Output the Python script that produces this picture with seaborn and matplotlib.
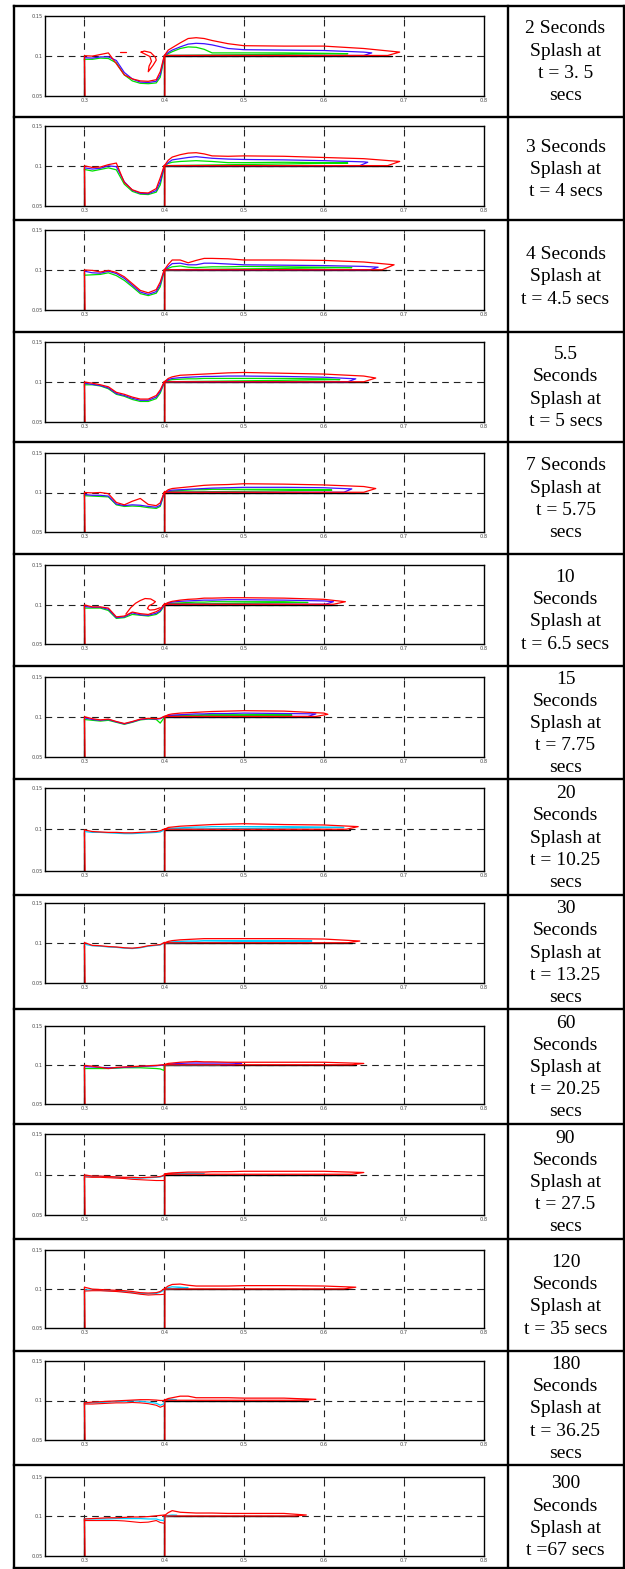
import numpy as np
import matplotlib
matplotlib.use("Agg")
import matplotlib.pyplot as plt
import seaborn as sns

W, H = 625, 1569

# ============================
# DATA
# ============================
captions = [
    "2 Seconds\nSplash at\nt = 3. 5\nsecs",
    "3 Seconds\nSplash at\nt = 4 secs",
    "4 Seconds\nSplash at\nt = 4.5 secs",
    "5.5\nSeconds\nSplash at\nt = 5 secs",
    "7 Seconds\nSplash at\nt = 5.75\nsecs",
    "10\nSeconds\nSplash at\nt = 6.5 secs",
    "15\nSeconds\nSplash at\nt = 7.75\nsecs",
    "20\nSeconds\nSplash at\nt = 10.25\nsecs",
    "30\nSeconds\nSplash at\nt = 13.25\nsecs",
    "60\nSeconds\nSplash at\nt = 20.25\nsecs",
    "90\nSeconds\nSplash at\nt = 27.5\nsecs",
    "120\nSeconds\nSplash at\nt = 35 secs",
    "180\nSeconds\nSplash at\nt = 36.25\nsecs",
    "300\nSeconds\nSplash at\nt =67 secs",
]

x_ticks = [0.3, 0.4, 0.5, 0.6, 0.7, 0.8]
x_labels = ["0.3", "0.4", "0.5", "0.6", "0.7", "0.8"]
y_ticks = [0.05, 0.1, 0.15]
y_labels = ["0.05", "0.1", "0.15"]

# free surface inside the pool (0.3 .. 0.4)
pool_x = [0.300, 0.310, 0.320, 0.330, 0.340, 0.350, 0.360, 0.370, 0.380, 0.390, 0.395, 0.400]

red_pool = [
    [0.100, 0.0995, 0.1015, 0.1035, 0.090, 0.076, 0.071, 0.0685, 0.068, 0.070, 0.080, 0.100],
    [0.100, 0.098, 0.0985, 0.1015, 0.1035, 0.079, 0.070, 0.0665, 0.066, 0.0715, 0.085, 0.1005],
    [0.100, 0.0995, 0.0975, 0.0995, 0.097, 0.0915, 0.083, 0.0745, 0.0715, 0.0755, 0.085, 0.1005],
    [0.100, 0.0985, 0.0965, 0.094, 0.087, 0.0845, 0.081, 0.0785, 0.0785, 0.083, 0.090, 0.1005],
    [0.100, 0.0995, 0.100, 0.0985, 0.0875, 0.0845, 0.089, 0.0925, 0.085, 0.0835, 0.087, 0.1005],
    [0.0995, 0.097, 0.097, 0.0955, 0.0845, 0.0855, 0.0905, 0.0885, 0.0875, 0.091, 0.094, 0.1005],
    [0.100, 0.0975, 0.096, 0.097, 0.094, 0.0915, 0.094, 0.097, 0.098, 0.0975, 0.098, 0.1005],
    [0.0995, 0.0975, 0.097, 0.0965, 0.0965, 0.096, 0.096, 0.0965, 0.097, 0.0975, 0.0985, 0.1005],
    [0.1005, 0.097, 0.0965, 0.0955, 0.095, 0.094, 0.0935, 0.0945, 0.0965, 0.0975, 0.098, 0.1005],
    [0.0995, 0.0985, 0.097, 0.0955, 0.097, 0.0975, 0.098, 0.0985, 0.099, 0.0995, 0.100, 0.1005],
    [0.0995, 0.098, 0.098, 0.0975, 0.097, 0.0965, 0.0965, 0.096, 0.0965, 0.097, 0.0975, 0.099],
    [0.1025, 0.100, 0.0995, 0.099, 0.0985, 0.098, 0.097, 0.0955, 0.095, 0.0955, 0.097, 0.1005],
    [0.097, 0.098, 0.0985, 0.099, 0.0995, 0.100, 0.1005, 0.101, 0.101, 0.1005, 0.100, 0.100],
    [0.0965, 0.097, 0.0975, 0.098, 0.098, 0.0985, 0.099, 0.099, 0.0995, 0.1005, 0.101, 0.1015],
]

blue_pool = [
    [0.0975, 0.097, 0.0985, 0.0985, 0.094, 0.079, 0.071, 0.067, 0.0665, 0.068, 0.076, 0.099],
    [0.0975, 0.096, 0.097, 0.100, 0.099, 0.080, 0.0695, 0.0655, 0.065, 0.069, 0.080, 0.099],
    [0.0985, 0.0965, 0.096, 0.0985, 0.0955, 0.0895, 0.081, 0.0725, 0.0695, 0.073, 0.082, 0.0995],
    [0.0985, 0.097, 0.0955, 0.0925, 0.0855, 0.083, 0.0795, 0.077, 0.077, 0.081, 0.088, 0.0995],
    [0.0975, 0.0965, 0.0965, 0.0955, 0.0855, 0.0835, 0.0845, 0.084, 0.0825, 0.0815, 0.084, 0.0995],
    [0.0975, 0.0965, 0.0965, 0.094, 0.0835, 0.0845, 0.0895, 0.087, 0.0865, 0.089, 0.092, 0.0995],
    [0.0985, 0.0965, 0.0955, 0.0965, 0.0935, 0.091, 0.0935, 0.0965, 0.0975, 0.097, 0.0975, 0.100],
    None,
    None,
    [0.098, 0.0975, 0.097, 0.0965, 0.0965, 0.097, 0.0975, 0.098, 0.0985, 0.099, 0.0995, 0.100],
    None,
    None,
    None,
    None,
]

third_color = ["#00e000", "#00e000", "#00e000", "#00e000", "#00e000", "#00e000", "#00e000",
               "#00ccff", "#00ccff", "#00e000", "#00ccff", "#00ccff", "#00ccff", "#00ccff"]

third_pool = [
    [0.0955, 0.0955, 0.097, 0.0965, 0.091, 0.076, 0.0685, 0.0655, 0.065, 0.066, 0.073, 0.097],
    [0.0955, 0.0935, 0.0955, 0.0975, 0.095, 0.077, 0.068, 0.0645, 0.064, 0.067, 0.076, 0.098],
    [0.0935, 0.094, 0.0945, 0.0965, 0.093, 0.087, 0.079, 0.0705, 0.068, 0.071, 0.079, 0.0985],
    [0.0965, 0.0965, 0.095, 0.0915, 0.0845, 0.082, 0.078, 0.0755, 0.0755, 0.079, 0.086, 0.099],
    [0.096, 0.0955, 0.095, 0.0945, 0.0845, 0.0825, 0.083, 0.0825, 0.081, 0.080, 0.0825, 0.099],
    [0.0955, 0.0955, 0.0955, 0.0925, 0.0825, 0.0835, 0.0875, 0.0865, 0.0855, 0.0875, 0.091, 0.0985],
    [0.0965, 0.0955, 0.0945, 0.0955, 0.093, 0.0905, 0.093, 0.096, 0.097, 0.0965, 0.092, 0.099],
    [0.0975, 0.0965, 0.0965, 0.096, 0.0955, 0.095, 0.095, 0.0955, 0.096, 0.0965, 0.097, 0.0995],
    [0.0985, 0.0965, 0.096, 0.095, 0.0945, 0.0935, 0.093, 0.094, 0.096, 0.097, 0.0975, 0.100],
    [0.0955, 0.0955, 0.0955, 0.0955, 0.096, 0.0965, 0.0965, 0.0965, 0.096, 0.0955, 0.095, 0.093],
    [0.098, 0.0975, 0.0975, 0.097, 0.0965, 0.096, 0.0955, 0.0955, 0.096, 0.0965, 0.097, 0.0985],
    [0.099, 0.099, 0.0985, 0.098, 0.0975, 0.097, 0.0955, 0.0945, 0.094, 0.0945, 0.096, 0.099],
    [0.0965, 0.097, 0.0975, 0.098, 0.0985, 0.099, 0.0995, 0.099, 0.098, 0.0965, 0.094, 0.096],
    [0.0965, 0.0965, 0.0965, 0.0965, 0.097, 0.097, 0.097, 0.097, 0.0965, 0.0965, 0.095, 0.0945],
]

# lower red contour seen in the late frames
red_inner = [
    None, None, None, None, None, None, None, None, None, None,
    [0.097, 0.0965, 0.0965, 0.096, 0.0955, 0.095, 0.094, 0.0935, 0.093, 0.0925, 0.0925, 0.0925],
    [0.0975, 0.098, 0.098, 0.0975, 0.097, 0.096, 0.095, 0.0935, 0.0925, 0.093, 0.093, 0.0935],
    [0.0955, 0.0955, 0.096, 0.0965, 0.097, 0.097, 0.0975, 0.097, 0.096, 0.094, 0.0915, 0.0935],
    [0.0945, 0.0945, 0.0945, 0.0945, 0.0945, 0.094, 0.093, 0.092, 0.0925, 0.0945, 0.092, 0.091],
]

# thin layer running over the step (x > 0.4), top edge, None past the tip
tongue_x = [0.400, 0.405, 0.410, 0.420, 0.430, 0.440, 0.450, 0.460, 0.480, 0.500, 0.550, 0.600, 0.650]

red_tongue = [
    [0.100, 0.107, 0.110, 0.116, 0.1215, 0.1225, 0.1215, 0.119, 0.115, 0.1125, 0.112, 0.112, 0.109],
    [0.100, 0.107, 0.111, 0.114, 0.116, 0.1165, 0.115, 0.1125, 0.112, 0.1125, 0.112, 0.1105, 0.109],
    [0.100, 0.107, 0.1125, 0.1125, 0.109, 0.112, 0.1145, 0.1145, 0.114, 0.1125, 0.1125, 0.112, 0.110],
    [0.100, 0.1045, 0.1065, 0.1085, 0.109, 0.1095, 0.110, 0.1105, 0.1115, 0.112, 0.111, 0.110, 0.1075],
    [0.100, 0.1035, 0.105, 0.106, 0.107, 0.108, 0.109, 0.1095, 0.110, 0.111, 0.1105, 0.1095, 0.1075],
    [0.100, 0.1025, 0.104, 0.1055, 0.1065, 0.107, 0.108, 0.108, 0.1085, 0.1085, 0.108, 0.1065, None],
    [0.100, 0.1025, 0.1035, 0.1045, 0.105, 0.1055, 0.106, 0.1065, 0.107, 0.1075, 0.107, 0.1045, None],
    [0.100, 0.1025, 0.103, 0.104, 0.1045, 0.105, 0.1055, 0.106, 0.1065, 0.107, 0.106, 0.1055, None],
    [0.100, 0.102, 0.103, 0.104, 0.1045, 0.105, 0.1055, 0.1055, 0.1055, 0.1055, 0.1055, 0.105, None],
    [0.1005, 0.102, 0.1025, 0.1035, 0.104, 0.1045, 0.104, 0.104, 0.1035, 0.1035, 0.1035, 0.1035, None],
    [0.1005, 0.1015, 0.102, 0.1025, 0.103, 0.103, 0.103, 0.1035, 0.1035, 0.104, 0.104, 0.104, None],
    [0.1005, 0.104, 0.106, 0.1065, 0.105, 0.104, 0.104, 0.104, 0.104, 0.1045, 0.1045, 0.104, None],
    [0.1005, 0.1025, 0.1035, 0.1055, 0.1055, 0.1035, 0.1035, 0.1035, 0.1035, 0.103, 0.103, None, None],
    [0.1005, 0.1045, 0.107, 0.105, 0.1045, 0.104, 0.104, 0.104, 0.1035, 0.1035, 0.1035, None, None],
]
red_tip_x = [0.695, 0.695, 0.688, 0.665, 0.665, 0.627, 0.605, 0.643, 0.645, 0.650, 0.650, 0.640, 0.590, 0.578]
red_tip_y = [0.1045, 0.1055, 0.1065, 0.105, 0.105, 0.1035, 0.103, 0.1035, 0.1025, 0.102, 0.1025, 0.1025, 0.1015, 0.1015]

blue_tongue = [
    [0.100, 0.104, 0.107, 0.111, 0.1145, 0.1155, 0.115, 0.1135, 0.109, 0.1075, 0.107, 0.1065, 0.1045],
    [0.100, 0.104, 0.1075, 0.109, 0.1105, 0.1115, 0.1105, 0.1095, 0.1085, 0.108, 0.1075, 0.1065, 0.105],
    [0.100, 0.104, 0.108, 0.1085, 0.1065, 0.1065, 0.1085, 0.1085, 0.1075, 0.1065, 0.106, 0.1055, 0.1045],
    [0.100, 0.103, 0.1045, 0.1055, 0.106, 0.1065, 0.107, 0.107, 0.1075, 0.1075, 0.107, 0.106, None],
    [0.100, 0.102, 0.103, 0.1035, 0.104, 0.1045, 0.105, 0.1055, 0.106, 0.1065, 0.1065, 0.106, None],
    [0.100, 0.102, 0.103, 0.104, 0.1045, 0.105, 0.1055, 0.1055, 0.106, 0.106, 0.1055, 0.1045, None],
    [0.100, 0.101, 0.102, 0.1025, 0.103, 0.1035, 0.1035, 0.104, 0.104, 0.1045, 0.104, None, None],
    None,
    None,
    [0.100, 0.101, 0.1015, 0.102, 0.1025, 0.1025, 0.1025, 0.1025, 0.1025, None, None, None, None],
    None,
    None,
    None,
    None,
]
blue_tip_x = [0.660, 0.655, 0.668, 0.640, 0.635, 0.612, 0.590, None, None, 0.497, None, None, None, None]
blue_tip_y = [0.1035, 0.1045, 0.1035, 0.104, 0.1045, 0.1035, 0.1035, None, None, 0.102, None, None, None, None]

third_tongue = [
    [0.100, 0.1025, 0.105, 0.109, 0.111, 0.1105, 0.108, 0.1035, 0.1035, 0.1035, 0.1035, 0.103, None],
    [0.100, 0.103, 0.1045, 0.1055, 0.106, 0.1065, 0.106, 0.1055, 0.104, 0.104, 0.1045, 0.104, None],
    [0.100, 0.102, 0.104, 0.105, 0.1035, 0.103, 0.1035, 0.104, 0.104, 0.1045, 0.104, 0.1035, None],
    [0.100, 0.102, 0.103, 0.1035, 0.104, 0.104, 0.1045, 0.1045, 0.1045, 0.1045, 0.1045, 0.104, None],
    [0.100, 0.101, 0.102, 0.1025, 0.103, 0.1035, 0.1035, 0.104, 0.104, 0.104, 0.104, 0.1035, None],
    [0.100, 0.1005, 0.1015, 0.102, 0.1025, 0.103, 0.103, 0.1035, 0.1035, 0.1035, 0.1035, None, None],
    [0.100, 0.1005, 0.101, 0.1015, 0.102, 0.102, 0.1025, 0.1025, 0.1025, 0.1025, 0.1025, None, None],
    [0.100, 0.101, 0.1015, 0.102, 0.1025, 0.103, 0.103, 0.1035, 0.1035, 0.1035, 0.1035, 0.103, None],
    [0.100, 0.101, 0.1015, 0.102, 0.1025, 0.1025, 0.103, 0.103, 0.103, 0.103, 0.103, None, None],
    [0.100, 0.1003, 0.1005, 0.1005, 0.1005, 0.1005, 0.1005, 0.1005, None, None, None, None, None],
    [0.100, 0.1005, 0.101, 0.101, 0.1015, 0.1015, None, None, None, None, None, None, None],
    [0.100, 0.102, 0.103, 0.1025, None, None, None, None, None, None, None, None, None],
    [0.100, 0.1015, 0.1015, None, None, None, None, None, None, None, None, None, None],
    [0.100, 0.101, 0.1015, None, None, None, None, None, None, None, None, None, None],
]
third_tip_x = [0.630, 0.630, 0.635, 0.620, 0.610, 0.580, 0.560, 0.625, 0.585, 0.470, 0.450, 0.430, 0.415, 0.416]
third_tip_y = [0.1025, 0.1035, 0.103, 0.103, 0.103, 0.1025, 0.102, 0.1025, 0.1025, 0.1003, 0.101, 0.1015, 0.101, 0.101]

# splash fragments (breaking wave curls and drops)
splash_row = [0, 0, 5]
splash_x = [
    [0.371, 0.375, 0.383, 0.389, 0.390, 0.386, 0.380, 0.381, 0.384, 0.382, 0.376, 0.371],
    [0.345, 0.352],
    [0.352, 0.358, 0.364, 0.370, 0.376, 0.383, 0.389, 0.386, 0.381, 0.379, 0.382, 0.388, 0.395],
]
splash_y = [
    [0.1045, 0.1058, 0.104, 0.098, 0.0945, 0.088, 0.080, 0.087, 0.093, 0.099, 0.102, 0.1045],
    [0.1043, 0.1043],
    [0.088, 0.096, 0.1015, 0.105, 0.1075, 0.107, 0.1035, 0.101, 0.0985, 0.095, 0.093, 0.0935, 0.096],
]

# ============================
# LAYOUT (pixels from the top)
# ============================
row_edges = [5.7, 116.7, 220, 331.7, 442.3, 554, 665.7, 779.3, 895, 1009, 1124, 1239, 1350.7, 1465, 1567.5]
axes_top = [15.7, 126, 230, 342.3, 452.7, 564.7, 676.7, 788.3, 903.3, 1025.7, 1134.3, 1250, 1361, 1476.7]
axes_bot = [95.7, 205.7, 310, 421.7, 532.3, 644.3, 756.7, 870.7, 982.7, 1104.3, 1214.7, 1328.3, 1440, 1555.7]
ax_left, ax_right = 44.5, 483.5
tab_left, tab_mid, tab_right = 14, 507.5, 623.5

RED, BLUE = "#ff0000", "#4010ff"
LW = 0.9

sns.set_style("white")
plt.rcParams["font.family"] = ["DejaVu Sans"]


def clean(xs, ys):
    xs = np.array(xs, dtype=float)
    ys = np.array([np.nan if v is None else v for v in ys], dtype=float)
    m = ~np.isnan(ys)
    return xs[m], ys[m]


def draw(ax, xs, ys, color, lw=LW):
    sns.lineplot(x=xs, y=ys, sort=False, estimator=None, color=color, lw=lw, ax=ax)


fig = plt.figure(figsize=(W / 100, H / 100), dpi=100)

# table frame and captions
bg = fig.add_axes([0, 0, 1, 1])
bg.set_xlim(0, W)
bg.set_ylim(H, 0)
bg.axis("off")
for y in row_edges:
    bg.plot([tab_left, tab_right], [y, y], color="black", lw=1.7, solid_capstyle="projecting")
for x in [tab_left, tab_mid, tab_right]:
    bg.plot([x, x], [row_edges[0], row_edges[-1]], color="black", lw=1.7, solid_capstyle="projecting")
for i, cap in enumerate(captions):
    bg.text((tab_mid + tab_right) / 2, (row_edges[i] + row_edges[i + 1]) / 2 + 1, cap,
            ha="center", va="center", fontsize=14, family=["Liberation Serif"],
            linespacing=1.4, color="black")

for i in range(len(captions)):
    ax = fig.add_axes([ax_left / W, 1 - axes_bot[i] / H,
                       (ax_right - ax_left) / W, (axes_bot[i] - axes_top[i]) / H])
    ax.set_xlim(0.25, 0.8)
    ax.set_ylim(0.05, 0.15)
    ax.set_xticks(x_ticks)
    ax.set_xticklabels(x_labels)
    ax.set_yticks(y_ticks)
    ax.set_yticklabels(y_labels)
    ax.tick_params(direction="in", length=2, width=0.6, labelsize=3.6,
                   labelcolor="#444444", pad=1.5, top=True, right=True)
    for s in ax.spines.values():
        s.set_color("black")
        s.set_linewidth(1.0)

    # dashed grid
    for xv in x_ticks[:-1]:
        ax.axvline(xv, color="#222222", lw=0.8, dashes=(6, 4.5), zorder=0)
    ax.axhline(0.1, color="#222222", lw=0.8, dashes=(6, 4.5), zorder=0)

    # solid walls of the pool and the step
    rx, ry = red_tip_x[i], red_tip_y[i]
    draw(ax, [0.300, 0.300], [0.05, 0.0975], "black", lw=1.0)
    draw(ax, [0.400, 0.400, rx - 0.01], [0.05, 0.0997, 0.0997], "black", lw=1.0)

    # third contour (green / cyan)
    px, py = clean(pool_x, third_pool[i])
    tx, ty = clean(tongue_x, third_tongue[i])
    xs = np.r_[px, tx, third_tip_x[i], 0.402]
    ys = np.r_[py, ty, third_tip_y[i], 0.1003]
    draw(ax, xs, ys, third_color[i])

    # blue contour
    if blue_pool[i] is not None:
        px, py = clean(pool_x, blue_pool[i])
        tx, ty = clean(tongue_x, blue_tongue[i])
        xs = np.r_[px, tx, blue_tip_x[i], blue_tip_x[i] - 0.01, 0.402]
        ys = np.r_[py, ty, blue_tip_y[i], 0.1003, 0.1003]
        draw(ax, xs, ys, BLUE)

    # red inner line (late frames)
    if red_inner[i] is not None:
        px, py = clean(pool_x, red_inner[i])
        draw(ax, px, py, RED, lw=0.8)

    # red outer contour: wall, pool, layer over the step, back down the step wall
    px, py = clean(pool_x, red_pool[i])
    tx, ty = clean(tongue_x, red_tongue[i])
    xs = np.r_[0.3008, px, tx, rx, rx - 0.015, 0.4008, 0.4008]
    ys = np.r_[0.05, py, ty, ry, 0.1003, 0.1003, 0.05]
    draw(ax, xs, ys, RED)

    for k, r in enumerate(splash_row):
        if r == i:
            draw(ax, splash_x[k], splash_y[k], RED)

    ax.set_xlabel("")
    ax.set_ylabel("")

fig.savefig("out.png", dpi=100)
